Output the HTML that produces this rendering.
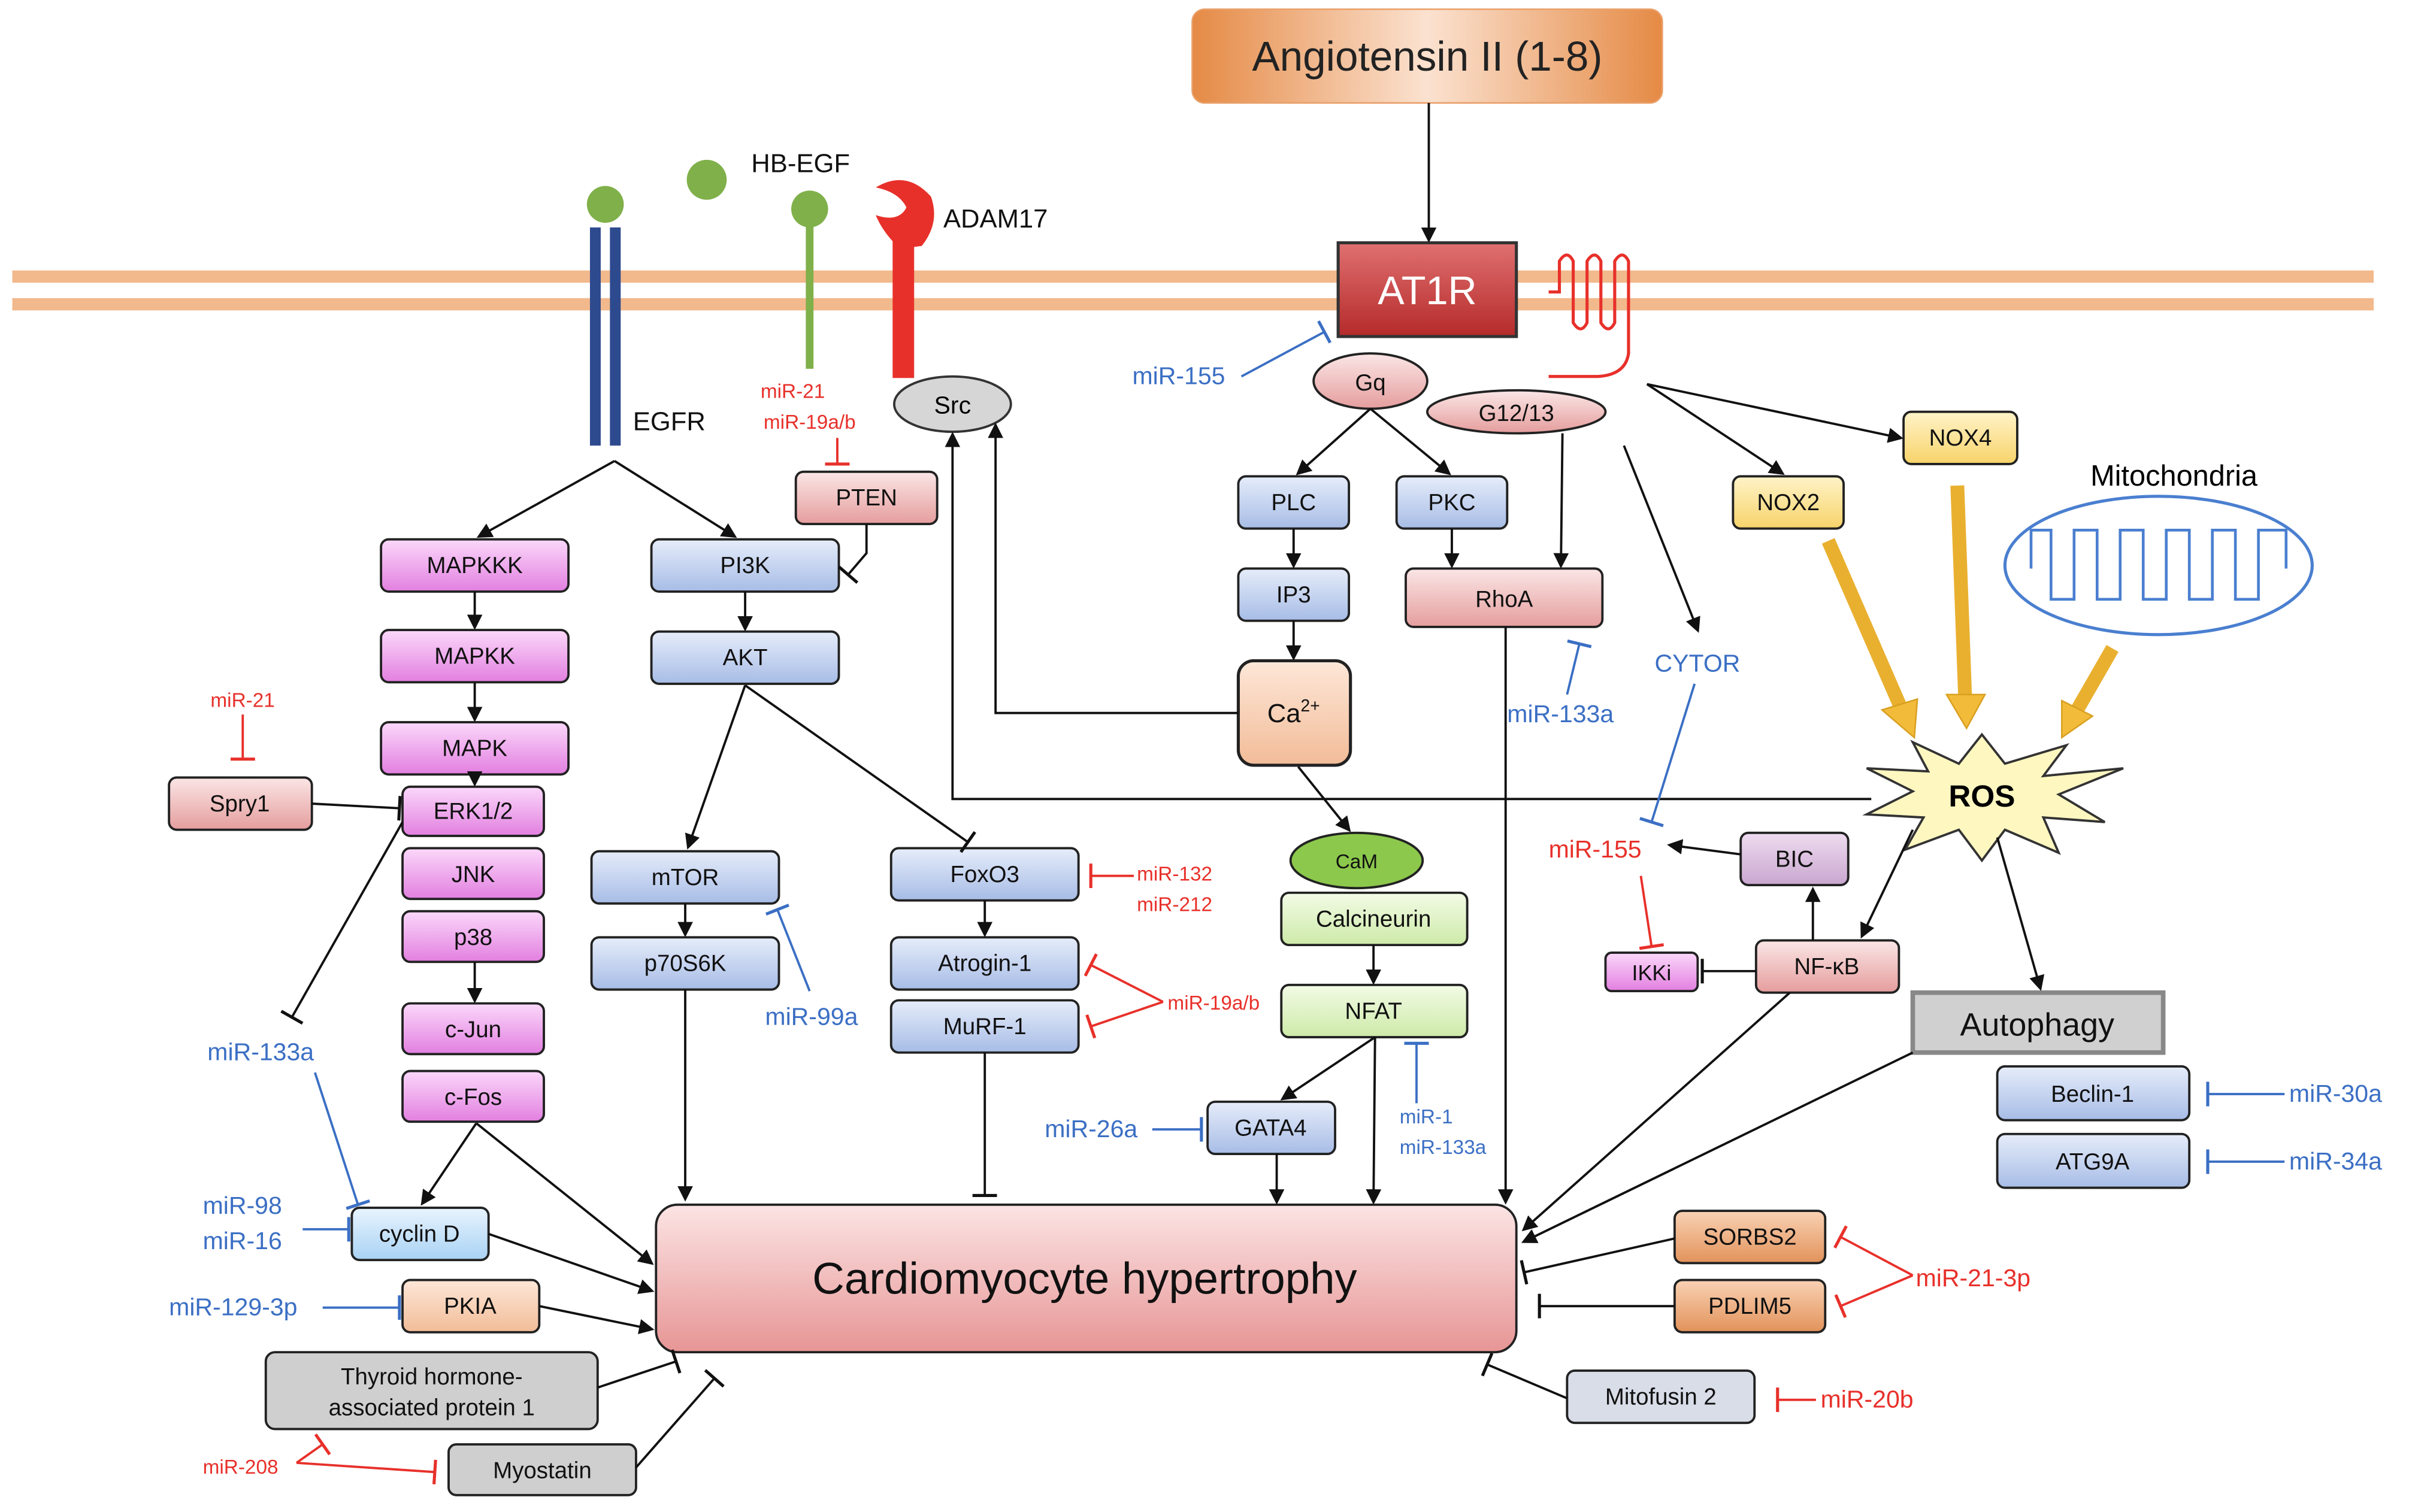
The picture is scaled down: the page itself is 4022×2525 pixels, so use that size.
<!DOCTYPE html>
<html><head><meta charset="utf-8"><style>
html,body{margin:0;padding:0;background:#fff}
svg{display:block}
text{font-family:"Liberation Sans",sans-serif}
</style></head><body>
<svg width="4022" height="2525" viewBox="0 0 1568 984" preserveAspectRatio="none" xmlns="http://www.w3.org/2000/svg">
<defs>
<linearGradient id="gm" x1="0" y1="0" x2="0" y2="1"><stop offset="0" stop-color="#fbd8fa"/><stop offset="1" stop-color="#e27fe0"/></linearGradient>
<linearGradient id="gb" x1="0" y1="0" x2="0" y2="1"><stop offset="0" stop-color="#e6edfa"/><stop offset="1" stop-color="#a7bce6"/></linearGradient>
<linearGradient id="gp" x1="0" y1="0" x2="0" y2="1"><stop offset="0" stop-color="#fbe6e6"/><stop offset="1" stop-color="#e59d9d"/></linearGradient>
<linearGradient id="gg" x1="0" y1="0" x2="0" y2="1"><stop offset="0" stop-color="#f3fbe6"/><stop offset="1" stop-color="#cdeaa8"/></linearGradient>
<linearGradient id="gy" x1="0" y1="0" x2="0" y2="1"><stop offset="0" stop-color="#fff3c8"/><stop offset="1" stop-color="#f7d36a"/></linearGradient>
<linearGradient id="go" x1="0" y1="0" x2="0" y2="1"><stop offset="0" stop-color="#f9d2b4"/><stop offset="1" stop-color="#e2925a"/></linearGradient>
<linearGradient id="gc" x1="0" y1="0" x2="0" y2="1"><stop offset="0" stop-color="#fde7d8"/><stop offset="1" stop-color="#f2bc98"/></linearGradient>
<linearGradient id="gl" x1="0" y1="0" x2="0" y2="1"><stop offset="0" stop-color="#e8f4fe"/><stop offset="1" stop-color="#a9d2f4"/></linearGradient>
<linearGradient id="ga" x1="0" y1="0" x2="1" y2="0"><stop offset="0" stop-color="#e58a45"/><stop offset=".5" stop-color="#fbe2d0"/><stop offset="1" stop-color="#e58a45"/></linearGradient>
<linearGradient id="gr" x1="0" y1="0" x2="0" y2="1"><stop offset="0" stop-color="#e07070"/><stop offset="1" stop-color="#b52a2a"/></linearGradient>
<linearGradient id="gh" x1="0" y1="0" x2="0" y2="1"><stop offset="0" stop-color="#fce4e4"/><stop offset="1" stop-color="#e79595"/></linearGradient>
<linearGradient id="gpu" x1="0" y1="0" x2="0" y2="1"><stop offset="0" stop-color="#eedcf0"/><stop offset="1" stop-color="#c9a6cf"/></linearGradient>
<marker id="ak" markerWidth="10" markerHeight="10" refX="8" refY="5" orient="auto" markerUnits="userSpaceOnUse"><path d="M0,0 L10,5 L0,10 z" fill="#111"/></marker>
<marker id="tk" markerWidth="4" markerHeight="16" refX="2" refY="8" orient="auto" markerUnits="userSpaceOnUse"><path d="M2,0 L2,16" stroke="#111" stroke-width="2"/></marker>
<marker id="tr" markerWidth="4" markerHeight="16" refX="2" refY="8" orient="auto" markerUnits="userSpaceOnUse"><path d="M2,0 L2,16" stroke="#e8302a" stroke-width="2"/></marker>
<marker id="tb" markerWidth="4" markerHeight="16" refX="2" refY="8" orient="auto" markerUnits="userSpaceOnUse"><path d="M2,0 L2,16" stroke="#3b6fc4" stroke-width="2"/></marker>
</defs>

<!-- membrane -->
<line x1="8" y1="180" x2="1545" y2="180" stroke="#f2b98c" stroke-width="8"/>
<line x1="8" y1="198" x2="1545" y2="198" stroke="#f2b98c" stroke-width="8"/>

<!-- angiotensin -->
<rect x="776" y="6" width="306" height="61" rx="8" fill="url(#ga)" stroke="#e9a06a"/>
<text x="929" y="46" font-size="27" text-anchor="middle" fill="#222">Angiotensin II (1-8)</text>
<rect x="871" y="158" width="116" height="61" fill="url(#gr)" stroke="#333" stroke-width="2"/>
<text x="929" y="198" font-size="26" text-anchor="middle" fill="#fff">AT1R</text>
<path d="M1008,190 L1015,190 L1015,170 Q1020,162 1024,170 L1024,210 Q1029,218 1033,210 L1033,170 Q1038,162 1042,170 L1042,210 Q1047,218 1051,210 L1051,170 Q1056,162 1060,170 L1060,230 Q1058,244 1040,245 L1008,245" fill="none" stroke="#e8302a" stroke-width="2"/>

<!-- EGFR etc -->
<rect x="384" y="148" width="7" height="142" fill="#2e4a8f"/>
<rect x="397" y="148" width="7" height="142" fill="#2e4a8f"/>
<circle cx="394" cy="133" r="12" fill="#80b04a"/>
<circle cx="460" cy="117" r="13" fill="#80b04a"/>
<line x1="527" y1="140" x2="527" y2="240" stroke="#80b04a" stroke-width="5"/>
<circle cx="527" cy="136" r="12" fill="#80b04a"/>
<rect x="581" y="150" width="14" height="96" fill="#e8302a"/>
<path d="M570,122 Q590,110 606,128 Q612,145 600,160 L586,162 Q575,152 570,140 Q585,145 590,135 Q585,125 570,122 z" fill="#e8302a"/>
<text x="489" y="112" font-size="17" fill="#111">HB-EGF</text>
<text x="614" y="148" font-size="17" fill="#111">ADAM17</text>
<text x="412" y="280" font-size="17" fill="#111">EGFR</text>

<ellipse cx="620" cy="263" rx="38" ry="18" fill="#d6d6d6" stroke="#333" stroke-width="1.5"/>
<text x="620" y="269" font-size="16" text-anchor="middle">Src</text>
<text x="516" y="259" font-size="13" text-anchor="middle" fill="#e8302a">miR-21</text>
<text x="527" y="279" font-size="13" text-anchor="middle" fill="#e8302a">miR-19a/b</text>

<g stroke="#222" stroke-width="1.5" font-size="15">
<rect x="518" y="307" width="92" height="34" rx="5" fill="url(#gp)"/>
<rect x="248" y="351" width="122" height="34" rx="5" fill="url(#gm)"/>
<rect x="248" y="410" width="122" height="34" rx="5" fill="url(#gm)"/>
<rect x="248" y="470" width="122" height="34" rx="5" fill="url(#gm)"/>
<rect x="262" y="512" width="92" height="32" rx="5" fill="url(#gm)"/>
<rect x="262" y="552" width="92" height="33" rx="5" fill="url(#gm)"/>
<rect x="262" y="593" width="92" height="33" rx="5" fill="url(#gm)"/>
<rect x="262" y="653" width="92" height="33" rx="5" fill="url(#gm)"/>
<rect x="262" y="697" width="92" height="33" rx="5" fill="url(#gm)"/>
<rect x="110" y="506" width="93" height="34" rx="5" fill="url(#gp)"/>
<rect x="424" y="351" width="122" height="34" rx="5" fill="url(#gb)"/>
<rect x="424" y="411" width="122" height="34" rx="5" fill="url(#gb)"/>
<rect x="385" y="554" width="122" height="34" rx="5" fill="url(#gb)"/>
<rect x="385" y="610" width="122" height="34" rx="5" fill="url(#gb)"/>
<rect x="580" y="552" width="122" height="34" rx="5" fill="url(#gb)"/>
<rect x="580" y="610" width="122" height="34" rx="5" fill="url(#gb)"/>
<rect x="580" y="651" width="122" height="34" rx="5" fill="url(#gb)"/>
<rect x="806" y="310" width="72" height="34" rx="5" fill="url(#gb)"/>
<rect x="909" y="310" width="72" height="34" rx="5" fill="url(#gb)"/>
<rect x="806" y="370" width="72" height="34" rx="5" fill="url(#gb)"/>
<rect x="806" y="430" width="73" height="68" rx="10" fill="url(#gc)" stroke-width="2"/>
<rect x="915" y="370" width="128" height="38" rx="5" fill="url(#gp)"/>
<ellipse cx="892" cy="248" rx="37" ry="18" fill="url(#gp)"/>
<ellipse cx="987" cy="268" rx="58" ry="14" fill="url(#gp)"/>
<ellipse cx="883" cy="560" rx="43" ry="18" fill="#8cc84c"/>
<rect x="834" y="581" width="121" height="34" rx="5" fill="url(#gg)"/>
<rect x="834" y="641" width="121" height="34" rx="5" fill="url(#gg)"/>
<rect x="786" y="717" width="83" height="34" rx="5" fill="url(#gb)"/>
<rect x="1239" y="268" width="74" height="34" rx="5" fill="url(#gy)"/>
<rect x="1128" y="310" width="72" height="34" rx="5" fill="url(#gy)"/>
<rect x="1133" y="542" width="70" height="34" rx="5" fill="url(#gpu)"/>
<rect x="1045" y="620" width="60" height="25" rx="4" fill="url(#gm)"/>
<rect x="1143" y="612" width="93" height="34" rx="5" fill="url(#gp)"/>
<rect x="1300" y="694" width="125" height="35" rx="5" fill="url(#gb)"/>
<rect x="1300" y="738" width="125" height="35" rx="5" fill="url(#gb)"/>
<rect x="229" y="786" width="89" height="34" rx="5" fill="url(#gl)"/>
<rect x="262" y="833" width="89" height="34" rx="5" fill="url(#gc)"/>
<rect x="173" y="880" width="216" height="50" rx="6" fill="#cfcfcf"/>
<rect x="292" y="940" width="122" height="33" rx="5" fill="#cfcfcf"/>
<rect x="1090" y="788" width="98" height="34" rx="5" fill="url(#go)"/>
<rect x="1090" y="833" width="98" height="34" rx="5" fill="url(#go)"/>
<rect x="1020" y="892" width="122" height="34" rx="5" fill="#d8dde8"/>
<rect x="427" y="784" width="560" height="96" rx="14" fill="url(#gh)"/>
</g>
<rect x="1245" y="646" width="163" height="39" fill="#d0d0d0" stroke="#888" stroke-width="3"/>

<ellipse cx="1405" cy="368" rx="100" ry="45" fill="none" stroke="#4a7fd0" stroke-width="2"/>
<path d="M1322,370 L1322,345 L1335,345 L1335,390 L1350,390 L1350,345 L1365,345 L1365,390 L1380,390 L1380,345 L1395,345 L1395,390 L1410,390 L1410,345 L1425,345 L1425,390 L1440,390 L1440,345 L1455,345 L1455,390 L1470,390 L1470,345 L1488,345 L1488,370" fill="none" stroke="#4a7fd0" stroke-width="1.8"/>
<text x="1415" y="316" font-size="19" text-anchor="middle">Mitochondria</text>

<polygon points="1290,478 1305,497 1345,485 1330,505 1382,500 1340,517 1370,535 1330,532 1340,555 1305,540 1290,560 1275,540 1240,553 1252,532 1215,530 1245,515 1215,500 1255,502 1245,483 1275,497" fill="#fff7c0" stroke="#333" stroke-width="1.5"/>
<text x="1290" y="525" font-size="20" font-weight="bold" text-anchor="middle">ROS</text>

<g font-size="15" text-anchor="middle" fill="#111">
<text x="564" y="329">PTEN</text>
<text x="309" y="373">MAPKKK</text>
<text x="309" y="432">MAPKK</text>
<text x="309" y="492">MAPK</text>
<text x="308" y="533">ERK1/2</text>
<text x="308" y="574">JNK</text>
<text x="308" y="615">p38</text>
<text x="308" y="675">c-Jun</text>
<text x="308" y="719">c-Fos</text>
<text x="156" y="528">Spry1</text>
<text x="485" y="373">PI3K</text>
<text x="485" y="433">AKT</text>
<text x="446" y="576">mTOR</text>
<text x="446" y="632">p70S6K</text>
<text x="641" y="574">FoxO3</text>
<text x="641" y="632">Atrogin-1</text>
<text x="641" y="673">MuRF-1</text>
<text x="842" y="332">PLC</text>
<text x="945" y="332">PKC</text>
<text x="842" y="392">IP3</text>
<text x="842" y="470" font-size="17">Ca<tspan font-size="11" dy="-7">2+</tspan></text>
<text x="979" y="395">RhoA</text>
<text x="892" y="254">Gq</text>
<text x="987" y="274">G12/13</text>
<text x="883" y="565" font-size="13">CaM</text>
<text x="894" y="603">Calcineurin</text>
<text x="894" y="663">NFAT</text>
<text x="827" y="739">GATA4</text>
<text x="1276" y="290">NOX4</text>
<text x="1164" y="332">NOX2</text>
<text x="1168" y="564">BIC</text>
<text x="1075" y="638" font-size="14">IKKi</text>
<text x="1189" y="634">NF-κB</text>
<text x="1326" y="674" font-size="21">Autophagy</text>
<text x="1362" y="717">Beclin-1</text>
<text x="1362" y="761">ATG9A</text>
<text x="273" y="808">cyclin D</text>
<text x="306" y="855">PKIA</text>
<text x="281" y="901">Thyroid hormone-</text>
<text x="281" y="921">associated protein 1</text>
<text x="353" y="962">Myostatin</text>
<text x="1139" y="810">SORBS2</text>
<text x="1139" y="855">PDLIM5</text>
<text x="1081" y="914">Mitofusin 2</text>
<text x="706" y="842" font-size="29">Cardiomyocyte hypertrophy</text>
</g>

<!-- miR labels -->
<g font-size="16" fill="#3b6fc4">
<text x="737" y="250">miR-155</text>
<text x="135" y="690">miR-133a</text>
<text x="132" y="790">miR-98</text>
<text x="132" y="813">miR-16</text>
<text x="110" y="856">miR-129-3p</text>
<text x="498" y="667">miR-99a</text>
<text x="680" y="740">miR-26a</text>
<text x="911" y="731" font-size="13">miR-1</text>
<text x="911" y="751" font-size="13">miR-133a</text>
<text x="981" y="470">miR-133a</text>
<text x="1077" y="437">CYTOR</text>
<text x="1490" y="717">miR-30a</text>
<text x="1490" y="761">miR-34a</text>
</g>
<g fill="#e8302a">
<text x="137" y="460" font-size="13">miR-21</text>
<text x="740" y="573" font-size="13">miR-132</text>
<text x="740" y="593" font-size="13">miR-212</text>
<text x="760" y="657" font-size="13">miR-19a/b</text>
<text x="1008" y="558" font-size="16">miR-155</text>
<text x="1247" y="837" font-size="16">miR-21-3p</text>
<text x="1185" y="916" font-size="16">miR-20b</text>
<text x="132" y="959" font-size="13">miR-208</text>
</g>

<!-- black connectors -->
<g stroke="#111" stroke-width="1.5" fill="none">
<line x1="930" y1="67" x2="930" y2="156" marker-end="url(#ak)"/>
<line x1="400" y1="300" x2="312" y2="349" marker-end="url(#ak)"/>
<line x1="400" y1="300" x2="478" y2="349" marker-end="url(#ak)"/>
<polyline points="564,341 564,360 552,374" marker-end="url(#tk)"/>
<line x1="309" y1="385" x2="309" y2="408" marker-end="url(#ak)"/>
<line x1="309" y1="444" x2="309" y2="468" marker-end="url(#ak)"/>
<line x1="309" y1="504" x2="309" y2="510" marker-end="url(#ak)"/>
<line x1="309" y1="626" x2="309" y2="651" marker-end="url(#ak)"/>
<line x1="485" y1="385" x2="485" y2="409" marker-end="url(#ak)"/>
<line x1="485" y1="446" x2="448" y2="551" marker-end="url(#ak)"/>
<line x1="485" y1="446" x2="630" y2="548" marker-end="url(#tk)"/>
<line x1="446" y1="588" x2="446" y2="608" marker-end="url(#ak)"/>
<line x1="446" y1="644" x2="446" y2="780" marker-end="url(#ak)"/>
<line x1="641" y1="586" x2="641" y2="608" marker-end="url(#ak)"/>
<line x1="641" y1="685" x2="641" y2="778" marker-end="url(#tk)"/>
<line x1="892" y1="266" x2="845" y2="308" marker-end="url(#ak)"/>
<line x1="892" y1="266" x2="943" y2="308" marker-end="url(#ak)"/>
<line x1="842" y1="344" x2="842" y2="368" marker-end="url(#ak)"/>
<line x1="842" y1="404" x2="842" y2="428" marker-end="url(#ak)"/>
<line x1="945" y1="344" x2="945" y2="368" marker-end="url(#ak)"/>
<line x1="1017" y1="282" x2="1016" y2="368" marker-end="url(#ak)"/>
<polyline points="806,464 648,464 648,277" marker-end="url(#ak)"/>
<polyline points="1218,520 620,520 620,283" marker-end="url(#ak)"/>
<line x1="845" y1="499" x2="878" y2="540" marker-end="url(#ak)"/>
<line x1="894" y1="615" x2="894" y2="639" marker-end="url(#ak)"/>
<line x1="895" y1="675" x2="835" y2="715" marker-end="url(#ak)"/>
<line x1="895" y1="675" x2="894" y2="782" marker-end="url(#ak)"/>
<line x1="831" y1="751" x2="831" y2="782" marker-end="url(#ak)"/>
<line x1="980" y1="408" x2="980" y2="782" marker-end="url(#ak)"/>
<line x1="1072" y1="250" x2="1160" y2="308" marker-end="url(#ak)"/>
<line x1="1072" y1="250" x2="1237" y2="285" marker-end="url(#ak)"/>
<line x1="1057" y1="290" x2="1105" y2="410" marker-end="url(#ak)"/>
<line x1="1245" y1="540" x2="1212" y2="609" marker-end="url(#ak)"/>
<line x1="1300" y1="545" x2="1328" y2="643" marker-end="url(#ak)"/>
<line x1="1180" y1="612" x2="1180" y2="579" marker-end="url(#ak)"/>
<line x1="1133" y1="556" x2="1087" y2="550" marker-end="url(#ak)"/>
<line x1="1143" y1="632" x2="1108" y2="632" marker-end="url(#tk)"/>
<line x1="1165" y1="646" x2="992" y2="800" marker-end="url(#ak)"/>
<line x1="1245" y1="685" x2="992" y2="808" marker-end="url(#ak)"/>
<line x1="1090" y1="806" x2="992" y2="828" marker-end="url(#tk)"/>
<line x1="1090" y1="850" x2="1002" y2="850" marker-end="url(#tk)"/>
<line x1="1020" y1="910" x2="968" y2="888" marker-end="url(#tk)"/>
<line x1="203" y1="523" x2="260" y2="526" marker-end="url(#tk)"/>
<line x1="262" y1="535" x2="190" y2="662" marker-end="url(#tk)"/>
<line x1="310" y1="731" x2="275" y2="783" marker-end="url(#ak)"/>
<line x1="310" y1="731" x2="424" y2="822" marker-end="url(#ak)"/>
<line x1="318" y1="803" x2="424" y2="840" marker-end="url(#ak)"/>
<line x1="351" y1="850" x2="424" y2="865" marker-end="url(#ak)"/>
<line x1="389" y1="903" x2="440" y2="886" marker-end="url(#tk)"/>
<line x1="414" y1="955" x2="465" y2="897" marker-end="url(#tk)"/>
</g>
<!-- red -->
<g stroke="#e8302a" stroke-width="1.5" fill="none">
<line x1="545" y1="285" x2="545" y2="302" marker-end="url(#tr)"/>
<line x1="158" y1="465" x2="158" y2="494" marker-end="url(#tr)"/>
<line x1="738" y1="570" x2="710" y2="570" marker-end="url(#tr)"/>
<line x1="757" y1="652" x2="710" y2="628" marker-end="url(#tr)"/>
<line x1="757" y1="652" x2="710" y2="668" marker-end="url(#tr)"/>
<line x1="1068" y1="570" x2="1075" y2="616" marker-end="url(#tr)"/>
<line x1="1245" y1="830" x2="1198" y2="805" marker-end="url(#tr)"/>
<line x1="1245" y1="830" x2="1198" y2="850" marker-end="url(#tr)"/>
<line x1="1182" y1="911" x2="1157" y2="911" marker-end="url(#tr)"/>
<line x1="193" y1="952" x2="210" y2="940" marker-end="url(#tr)"/>
<line x1="193" y1="952" x2="283" y2="958" marker-end="url(#tr)"/>
</g>
<!-- blue -->
<g stroke="#3b6fc4" stroke-width="1.5" fill="none">
<line x1="808" y1="245" x2="862" y2="216" marker-end="url(#tb)"/>
<line x1="527" y1="645" x2="506" y2="592" marker-end="url(#tb)"/>
<line x1="750" y1="735" x2="782" y2="735" marker-end="url(#tb)"/>
<line x1="922" y1="718" x2="922" y2="679" marker-end="url(#tb)"/>
<line x1="1020" y1="452" x2="1028" y2="419" marker-end="url(#tb)"/>
<line x1="1103" y1="445" x2="1075" y2="535" marker-end="url(#tb)"/>
<line x1="1487" y1="712" x2="1437" y2="712" marker-end="url(#tb)"/>
<line x1="1487" y1="756" x2="1437" y2="756" marker-end="url(#tb)"/>
<line x1="205" y1="698" x2="233" y2="784" marker-end="url(#tb)"/>
<line x1="197" y1="800" x2="227" y2="800" marker-end="url(#tb)"/>
<line x1="210" y1="851" x2="260" y2="851" marker-end="url(#tb)"/>
</g>
<!-- yellow big arrows -->
<g stroke="#e9b030" stroke-width="9" fill="#f2bc3a">
<line x1="1190" y1="352" x2="1237" y2="460"/>
<line x1="1274" y1="316" x2="1279" y2="452"/>
<line x1="1375" y1="422" x2="1352" y2="462"/>
</g>
<g fill="#f2bc3a" stroke="#d9a020" stroke-width="1">
<polygon points="1246,480 1225,462 1248,455"/>
<polygon points="1280,474 1267,452 1292,452"/>
<polygon points="1342,480 1342,456 1362,466"/>
</g>
</svg>
</body></html>
